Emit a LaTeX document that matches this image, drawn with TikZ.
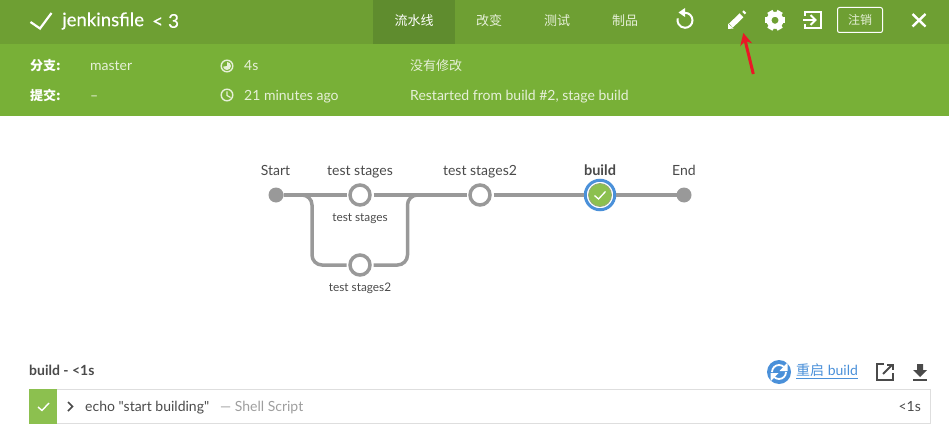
\documentclass[tikz,border=0pt]{standalone}
\usepackage{fontspec}
\setmainfont{Lato}
\newfontfamily\rawfont{Lato}
\newfontfamily\titlefont[FakeBold=0.25]{Lato}
\newfontfamily\cjk{Noto Sans CJK SC}
\usetikzlibrary{positioning,arrows.meta}
\definecolor{barDark}{HTML}{6E9F33}
\definecolor{barTab}{HTML}{5F8C2E}
\definecolor{barLight}{HTML}{78B037}
\definecolor{headText}{HTML}{E6F0D8}
\definecolor{flowGray}{HTML}{999999}
\definecolor{okGreen}{HTML}{8CC04F}
\definecolor{linkBlue}{HTML}{4A90D9}
\definecolor{textGray}{HTML}{4A4A4A}
\definecolor{arrowRed}{HTML}{EA1726}
\tikzset{
  txt/.style={inner sep=0pt,anchor=west,font=\fontsize{14}{16}\selectfont},
  baseline/.style={text height=10pt,text depth=3pt},
  head/.style={txt,baseline,text=headText},
  headkey/.style={txt,baseline,text=white,font=\fontsize{13}{15}\selectfont\cjk\bfseries},
  tab/.style={txt,anchor=center,text=headText,font=\fontsize{13}{15}\selectfont\cjk},
  flowlabel/.style={inner sep=0pt,baseline,text=textGray,font=\fontsize{14}{16}\selectfont},
  sublabel/.style={inner sep=0pt,text height=9pt,text depth=3pt,text=textGray,font=\fontsize{11.8}{13}\selectfont},
  endpoint/.style={circle,fill=flowGray,inner sep=0pt,minimum size=15pt,outer sep=0pt},
  stagenode/.style={circle,draw=flowGray,fill=white,line width=3.5pt,inner sep=0pt,minimum size=20pt,outer sep=3.5pt},
  donenode/.style={circle,draw=linkBlue,fill=white,line width=3pt,inner sep=0pt,minimum size=29.5pt,outer sep=1.5pt},
  flowline/.style={flowGray,line width=3.5pt},
  icon/.style={white,line width=2pt},
  darkicon/.style={textGray,line width=2pt}
}
\begin{document}
\begin{tikzpicture}[x=1pt,y=-1pt]
  \useasboundingbox (0,0) rectangle (949,441);
  % header bands
  \fill[barDark] (0,0) rectangle (949,44);
  \fill[barTab] (373,0) rectangle (455,44);
  \fill[barLight] (0,44) rectangle (949,116);
  \draw[white,line width=2.2pt] (30.5,22) -- (40,28.5) -- (51.5,13);
  \node[txt,text=white,font=\fontsize{18.6}{21}\selectfont\titlefont] (title) at (62,21) {jenkinsfile};
  \node[txt,text=white,font=\fontsize{19}{21}\selectfont\titlefont] (run) at (152,21) {< 3};
  \node[tab,text=white] (tabflow) at (414,20.5) {流水线};
  \node[tab] (tabchange) at (489,20.5) {改变};
  \node[tab] (tabtest) at (557,20.5) {测试};
  \node[tab] (tabart) at (625,20.5) {制品};
  % replay
  \draw[icon] (685,12.8) arc (-90:195:7.5);
  \fill[white] (678.5,12.5) -- (685,8) -- (685,17) -- cycle;
  % pencil
  \draw[white,line width=5.5pt] (731,25.5) -- (741.5,15.3);
  \fill[white] (728,29) -- (728,23.5) -- (733.5,28.5) -- cycle;
  \draw[white,line width=3.5pt] (743.5,13.2) -- (745,11.7);
  % settings
  \foreach \a in {30,90,...,330}
    \fill[white,rotate around={\a:(775,20.3)}] (772,10) rectangle (778,15);
  \draw[white,line width=5pt] (775,20.3) circle (6);
  % leave
  \draw[icon] (805,16) -- (805,12) -- (821,12) -- (821,28.5) -- (805,28.5) -- (805,24);
  \draw[icon] (803,20) -- (815,20);
  \draw[icon] (810.5,15) -- (815.5,20) -- (810.5,25);
  \node[draw=white,line width=1pt,rounded corners=2pt,minimum width=45pt,minimum height=25pt,inner sep=0pt,text=headText,font=\fontsize{12}{14}\selectfont\cjk] (logout) at (860,20) {注销};
  \draw[white,line width=2.4pt] (912.5,14) -- (925.5,26.5) (925.5,14) -- (912.5,26.5);
  % run info
  \node[headkey] (branchkey) at (30,67.5) {分支:};
  \node[head] (branchval) at (90,67.5) {master};
  \node[headkey] (commitkey) at (30,96.5) {提交:};
  \node[head] (commitval) at (90,96.5) {–};
  \draw[headText,line width=1.4pt] (227,66) circle (5.8);
  \fill[headText] (227,66) -- (227,62) arc (-90:170:4) -- cycle;
  \node[head] (duration) at (244,67.5) {4s};
  \draw[headText,line width=1.4pt] (227,95) circle (5.8);
  \draw[headText,line width=1.2pt] (227,91.5) -- (227,95.5) -- (230.5,97.5);
  \node[head] (ago) at (244,96.5) {21 minutes ago};
  \node[head,font=\fontsize{13}{15}\selectfont\cjk] (nochange) at (410,67.5) {没有修改};
  \node[head] (cause) at (410,96.5) {Restarted from build \#2, stage build};
  % pipeline
  \node[endpoint] (start) at (276,195) {};
  \node[stagenode] (stageone) at (360,195) {};
  \node[stagenode] (stagetwo) at (360,265) {};
  \node[stagenode] (stagenext) at (480,195) {};
  \node[donenode] (build) at (600,195) {};
  \node[endpoint] (end) at (684,195) {};
  \fill[okGreen,draw=flowGray!60!okGreen,line width=.8pt] (build) circle (11.5);
  \draw[white,line width=1.3pt] (594.5,195.5) -- (598.5,199) -- (605.5,191.5);
  \draw[flowline] (start) -- (stageone);
  \draw[flowline] (stageone) -- (stagenext);
  \draw[flowline] (stagenext) -- (build);
  \draw[flowline] (build) -- (end);
  \draw[flowline,rounded corners=10pt] (start) -- (312,195) -- (312,265) -- (stagetwo);
  \draw[flowline,rounded corners=10pt] (stagetwo) -- (407.5,265) -- (407.5,195) -- (stagenext);
  \node[flowlabel] (startlabel) at (275.5,171.5) {Start};
  \node[flowlabel] (onelabel) at (360,171.5) {test stages};
  \node[flowlabel] (nextlabel) at (480,171.5) {test stages2};
  \node[flowlabel,font=\fontsize{14.5}{16}\selectfont\bfseries] (buildlabel) at (600,171.5) {build};
  \node[flowlabel] (endlabel) at (684,171.5) {End};
  \node[sublabel] (onesub) at (360,218) {test stages};
  \node[sublabel] (twosub) at (360,288) {test stages2};
  % step log
  \node[txt,baseline,text=textGray,font=\fontsize{14}{16}\selectfont\bfseries] (steptitle) at (29,371.8) {build - <1s};
  \draw[black!13,line width=1pt] (29,389.5) rectangle (930.5,423.5);
  \fill[okGreen] (29,389) rectangle (57,424);
  \draw[white,line width=1.4pt] (38,407) -- (42,410.5) -- (49,403);
  \draw[textGray,line width=1.6pt] (68,402) -- (72.5,406.5) -- (68,411);
  \node[txt,baseline,text=textGray,font=\fontsize{14}{16}\selectfont\rawfont] (stepcmd) at (85,407.5) {echo "start building"};
  \node[txt,baseline,text=black!38] (steptype) at (220,407.5) {— Shell Script};
  \node[txt,baseline,anchor=east,text=textGray] (steptime) at (921,407.5) {<1s};
  % step actions
  \fill[linkBlue] (779,372) circle (12);
  \draw[white,line width=1.8pt] (772,372) arc (180:315:7);
  \draw[white,line width=1.8pt] (786,372) arc (0:135:7);
  \fill[white] (787.5,362.5) -- (787.5,371) -- (779.5,371) -- cycle;
  \fill[white] (770.5,381.5) -- (770.5,373) -- (778.5,373) -- cycle;
  \node[txt,baseline,text=linkBlue] (restart) at (796,372) {\underline{{\cjk 重启} build}};
  \draw[darkicon] (884,364) -- (877,364) -- (877,380) -- (893,380) -- (893,373);
  \draw[darkicon] (883,374) -- (892,365);
  \draw[darkicon] (887,364.5) -- (893,364.5) -- (893,370);
  \fill[textGray] (917,364) rectangle (923,370) (913,370) -- (927,370) -- (920,377) -- cycle;
  \fill[textGray] (913,378.5) rectangle (927,381);
  % red arrow
  \coordinate (arrowtail) at (753.3,74);
  \coordinate (arrowtip) at (743.3,33);
  \draw[-{Stealth[length=12pt,width=12pt]},arrowRed,line width=3pt] (arrowtail) -- (arrowtip);
\end{tikzpicture}
\end{document}
